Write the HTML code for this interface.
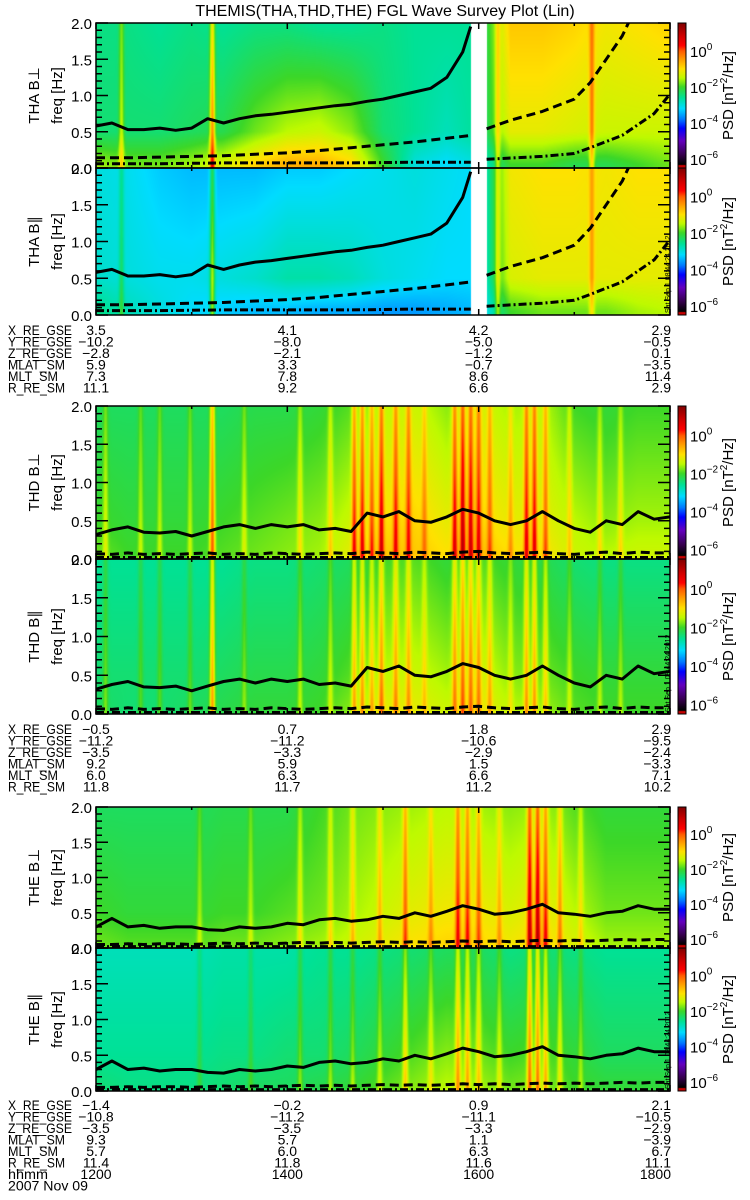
<!DOCTYPE html>
<html><head><meta charset="utf-8">
<style>
html,body{margin:0;padding:0;background:#fff;}
#wrap{position:relative;width:750px;height:1200px;overflow:hidden;font-family:"Liberation Sans",sans-serif;}
canvas{position:absolute;left:0;top:0;}
svg{position:absolute;left:0;top:0;}
text{font-family:"Liberation Sans","DejaVu Sans",sans-serif;fill:#000;}
</style></head>
<body>
<div id="wrap">
<canvas id="cv" width="750" height="1200"></canvas>
<svg id="sv" width="750" height="1200" xmlns="http://www.w3.org/2000/svg"></svg>
</div>
<script>
// ---------- data ----------
const nodeTimes = [0,20,40,60,80,100,120,140,160,180,200,220,240,260,280,300,320,340,360];
const thaPerpLo  = [-1.6,-1.8,-1.8,-1.6,-1.3,-0.9,-0.6,-0.6,-0.9,-2.0,-3.0,-3.2,-3.0,-2.0,-2.0,-2.2,-2.2,-2.0,-1.8];
const thaPerpMid = [-2.4,-2.4,-2.4,-2.3,-2.2,-1.8,-1.5,-1.4,-1.7,-2.4,-2.6,-2.8,-2.6,-1.2,-1.2,-1.3,-1.4,-1.4,-1.4];
const thaPerpHi  = [-2.5,-2.5,-2.6,-2.5,-2.6,-2.5,-2.5,-2.6,-2.6,-2.5,-2.6,-2.6,-2.6,-0.8,-0.8,-0.9,-1.1,-1.0,-0.9];
const thaParLo   = [-2.5,-2.8,-3.0,-3.2,-3.3,-3.4,-3.4,-3.5,-3.5,-3.6,-3.6,-3.5,-3.4,-2.0,-1.8,-1.8,-1.8,-1.6,-1.5];
const thaParMid  = [-2.9,-3.0,-3.1,-3.1,-3.0,-2.9,-2.7,-2.7,-2.8,-3.0,-3.1,-3.2,-3.2,-1.3,-1.2,-1.2,-1.2,-1.2,-1.2];
const thaParHi   = [-3.0,-3.1,-3.3,-3.4,-3.4,-3.4,-3.3,-3.3,-3.2,-3.1,-3.0,-3.1,-3.2,-1.1,-1.0,-1.0,-1.1,-1.0,-1.0];
const thdPerpLo  = [-1.8,-2.0,-2.0,-2.0,-1.9,-1.8,-1.7,-1.6,-1.2,-0.8,-0.8,-1.0,-0.7,-1.0,-1.0,-1.4,-1.5,-1.4,-1.4];
const thdPerpMid = [-2.0,-2.1,-2.1,-2.1,-2.0,-1.9,-1.8,-1.7,-1.4,-1.0,-0.9,-1.2,-0.9,-1.2,-1.2,-1.5,-1.7,-1.6,-1.6];
const thdPerpHi  = [-2.3,-2.3,-2.3,-2.3,-2.3,-2.2,-2.2,-2.1,-1.9,-1.5,-1.4,-1.7,-1.3,-1.6,-1.5,-2.0,-2.1,-2.0,-2.0];
const thdParLo   = [-2.3,-2.4,-2.4,-2.3,-2.2,-2.1,-2.1,-2.0,-1.7,-1.2,-1.2,-1.4,-1.1,-1.5,-1.6,-1.9,-2.0,-2.0,-2.0];
const thdParMid  = [-2.4,-2.4,-2.4,-2.4,-2.3,-2.2,-2.2,-2.1,-1.9,-1.5,-1.4,-1.6,-1.3,-1.7,-1.8,-2.0,-2.1,-2.1,-2.1];
const thdParHi   = [-2.6,-2.6,-2.6,-2.6,-2.6,-2.5,-2.5,-2.4,-2.3,-2.0,-1.9,-2.1,-1.9,-2.1,-2.2,-2.4,-2.5,-2.5,-2.5];
const thePerpLo  = [-1.8,-1.9,-1.9,-1.9,-1.8,-1.8,-1.7,-1.6,-1.4,-1.2,-1.0,-0.9,-0.9,-1.1,-0.9,-1.3,-1.6,-1.6,-1.6];
const thePerpMid = [-2.0,-2.1,-2.1,-2.1,-2.0,-2.0,-1.9,-1.8,-1.6,-1.4,-1.2,-1.1,-1.1,-1.3,-1.1,-1.5,-1.8,-1.8,-1.8];
const thePerpHi  = [-2.3,-2.3,-2.3,-2.3,-2.2,-2.2,-2.2,-2.0,-1.8,-1.7,-1.6,-1.5,-1.6,-1.7,-1.6,-1.9,-2.1,-2.1,-2.1];
const theParLo   = [-2.4,-2.5,-2.5,-2.5,-2.4,-2.3,-2.3,-2.2,-2.1,-1.9,-1.7,-1.5,-1.6,-1.8,-1.7,-2.0,-2.1,-2.1,-2.1];
const theParMid  = [-2.6,-2.6,-2.6,-2.6,-2.5,-2.5,-2.4,-2.4,-2.3,-2.1,-1.9,-1.7,-1.8,-2.0,-1.9,-2.1,-2.3,-2.3,-2.3];
const theParHi   = [-2.8,-2.8,-2.8,-2.8,-2.7,-2.7,-2.7,-2.6,-2.6,-2.5,-2.4,-2.3,-2.3,-2.5,-2.4,-2.5,-2.6,-2.6,-2.6];

const thaStripeT = [16,73,252,311];
const thaPerpStripeA = [1.0,2.0,0.9,1.2];
const thaParStripeA  = [0.7,1.6,0.9,0.8];
const thdStripeT = [6,28,40,59,73,93,128,147,162,167,173,179,188,196,206,225,230,235,240,247,260,270,275,282,297,316,329];
const thdPerpStripeA = [0.7,0.6,0.6,0.6,2.0,0.6,0.7,0.7,1.7,1.7,1.3,1.7,1.4,1.3,0.8,1.7,2.0,1.7,1.4,1.0,0.7,1.7,1.7,1.2,0.6,0.6,0.6];
const thdParStripeA  = [0.6,0.5,0.5,0.5,1.8,0.5,0.6,0.6,1.2,1.2,0.9,1.2,1.0,0.9,0.6,1.2,1.4,1.2,1.0,0.8,0.5,1.2,1.2,0.9,0.5,0.5,0.5];
const theStripeT = [65,97,128,147,161,178,194,210,227,233,240,253,272,277,282,291,304];
const thePerpStripeA = [0.5,0.5,0.7,0.7,0.8,0.8,1.3,0.7,1.5,1.4,1.1,0.7,2.1,2.1,1.5,1.0,0.6];
const theParStripeA  = [0.4,0.4,0.6,0.6,0.6,0.6,1.0,0.6,1.2,1.1,0.9,0.6,1.7,1.6,1.2,0.8,0.5];

const thaGap = [235,245];

const thaSolidT = [0,10,20,30,40,50,60,70,80,90,100,110,120,130,140,150,160,170,180,190,200,210,220,230,235];
const thaSolidF = [0.58,0.62,0.53,0.53,0.55,0.52,0.55,0.68,0.62,0.68,0.72,0.74,0.77,0.80,0.83,0.86,0.88,0.92,0.95,1.0,1.05,1.1,1.25,1.6,1.95];
const thaDashT = [0,20,40,60,80,100,120,140,160,180,200,220,235,null,245,260,280,300,310,320,330,335];
const thaDashF = [0.14,0.14,0.15,0.16,0.17,0.19,0.21,0.24,0.28,0.32,0.36,0.41,0.45,null,0.54,0.66,0.78,0.95,1.18,1.5,1.82,2.05];
const thaDotT = [0,40,80,120,160,200,235,null,245,280,300,310,330,350,360];
const thaDotF = [0.06,0.06,0.07,0.07,0.07,0.08,0.08,null,0.12,0.16,0.2,0.28,0.45,0.75,1.02];

const tenMin = [0,10,20,30,40,50,60,70,80,90,100,110,120,130,140,150,160,170,180,190,200,210,220,230,240,250,260,270,280,290,300,310,320,330,340,350,360];
const thdSolidF = [0.32,0.38,0.42,0.35,0.34,0.36,0.30,0.36,0.42,0.45,0.40,0.45,0.42,0.45,0.38,0.40,0.36,0.60,0.55,0.62,0.50,0.48,0.55,0.65,0.60,0.50,0.45,0.50,0.62,0.50,0.40,0.35,0.50,0.45,0.62,0.52,0.55];
const thdDashF  = [0.07,0.06,0.08,0.06,0.07,0.06,0.07,0.08,0.06,0.07,0.06,0.08,0.07,0.06,0.07,0.08,0.07,0.09,0.08,0.07,0.09,0.08,0.07,0.09,0.10,0.08,0.07,0.08,0.09,0.07,0.06,0.08,0.09,0.07,0.09,0.08,0.08];
const thdDotF   = [0.02,0.02,0.02,0.02,0.02,0.02,0.02,0.02,0.02,0.02,0.02,0.02,0.02,0.02,0.02,0.02,0.02,0.02,0.02,0.02,0.02,0.02,0.02,0.02,0.02,0.02,0.02,0.02,0.02,0.02,0.02,0.02,0.02,0.02,0.02,0.02,0.02];
const theSolidF = [0.30,0.42,0.30,0.32,0.28,0.30,0.30,0.26,0.25,0.30,0.28,0.30,0.35,0.33,0.40,0.42,0.38,0.40,0.45,0.42,0.50,0.45,0.52,0.60,0.55,0.48,0.50,0.55,0.62,0.50,0.48,0.45,0.50,0.52,0.60,0.55,0.55];
const theDashF  = [0.05,0.05,0.06,0.05,0.06,0.06,0.05,0.06,0.07,0.06,0.07,0.06,0.07,0.08,0.07,0.08,0.07,0.08,0.09,0.08,0.09,0.08,0.09,0.10,0.09,0.10,0.09,0.10,0.11,0.10,0.11,0.10,0.11,0.12,0.11,0.12,0.12];
const theDotF   = [0.02,0.02,0.02,0.02,0.02,0.02,0.02,0.02,0.02,0.02,0.02,0.02,0.02,0.02,0.02,0.02,0.02,0.02,0.02,0.02,0.02,0.02,0.02,0.02,0.02,0.02,0.02,0.02,0.02,0.02,0.02,0.02,0.02,0.02,0.02,0.02,0.02];

const yTickLabels = ["0.0","0.5","1.0","1.5","2.0"];
const yTickValues = [0,0.5,1.0,1.5,2.0];
const cbTickValues = [0,-2,-4,-6];
const orbitLabels = ["X_RE_GSE","Y_RE_GSE","Z_RE_GSE","MLAT_SM","MLT_SM","R_RE_SM"];
const orbitTha = [["3.5","4.1","4.2","2.9"],["\u221210.2","\u22128.0","\u22125.0","\u22120.5"],["\u22122.8","\u22122.1","\u22121.2","0.1"],["5.9","3.3","\u22120.7","\u22123.5"],["7.3","7.8","8.6","11.4"],["11.1","9.2","6.6","2.9"]];
const orbitThd = [["\u22120.5","0.7","1.8","2.9"],["\u221211.2","\u221211.2","\u221210.6","\u22129.5"],["\u22123.5","\u22123.3","\u22122.9","\u22122.4"],["9.2","5.9","1.5","\u22123.3"],["6.0","6.3","6.6","7.1"],["11.8","11.7","11.2","10.2"]];
const orbitThe = [["\u22121.4","\u22120.2","0.9","2.1"],["\u221210.8","\u221211.2","\u221211.1","\u221210.5"],["\u22123.5","\u22123.5","\u22123.3","\u22122.9"],["9.3","5.7","1.1","\u22123.9"],["5.7","6.0","6.3","6.7"],["11.4","11.8","11.6","11.1"]];
const hhmmLabels = ["1200","1400","1600","1800"];
const hhmmTimes = [0,120,240,360];

// ---------- layout ----------
const PX0 = 96, PX1 = 670, TMAX = 360;
const CB0 = 678, CB1 = 686, CBTOP = 1.55, CBBOT = -6.5;
const labelWidths = {"X_RE_GSE":64,"Y_RE_GSE":64,"Z_RE_GSE":64,"MLAT_SM":57,"MLT_SM":50,"R_RE_SM":57,"hhmm":40};
const panels = [
  {name:"tha-bperp", title:"THA B\u22a5", top:23, bot:168, lo:thaPerpLo, mid:thaPerpMid, hi:thaPerpHi, sT:thaStripeT, sA:thaPerpStripeA, gap:thaGap, lines:[[thaSolidT,thaSolidF,"solid"],[thaDashT,thaDashF,"dash"],[thaDotT,thaDotF,"dashdot"]]},
  {name:"tha-bpar", title:"THA B\u2225", top:168, bot:315, lo:thaParLo, mid:thaParMid, hi:thaParHi, sT:thaStripeT, sA:thaParStripeA, gap:thaGap, lines:[[thaSolidT,thaSolidF,"solid"],[thaDashT,thaDashF,"dash"],[thaDotT,thaDotF,"dashdot"]], stamp:true},
  {name:"thd-bperp", title:"THD B\u22a5", top:406, bot:559, lo:thdPerpLo, mid:thdPerpMid, hi:thdPerpHi, sT:thdStripeT, sA:thdPerpStripeA, gap:null, lines:[[tenMin,thdSolidF,"solid"],[tenMin,thdDashF,"dash"],[tenMin,thdDotF,"dashdot"]]},
  {name:"thd-bpar", title:"THD B\u2225", top:559, bot:714, lo:thdParLo, mid:thdParMid, hi:thdParHi, sT:thdStripeT, sA:thdParStripeA, gap:null, lines:[[tenMin,thdSolidF,"solid"],[tenMin,thdDashF,"dash"],[tenMin,thdDotF,"dashdot"]], stamp:true},
  {name:"the-bperp", title:"THE B\u22a5", top:807, bot:948, lo:thePerpLo, mid:thePerpMid, hi:thePerpHi, sT:theStripeT, sA:thePerpStripeA, gap:null, lines:[[tenMin,theSolidF,"solid"],[tenMin,theDashF,"dash"],[tenMin,theDotF,"dashdot"]]},
  {name:"the-bpar", title:"THE B\u2225", top:948, bot:1091, lo:theParLo, mid:theParMid, hi:theParHi, sT:theStripeT, sA:theParStripeA, gap:null, lines:[[tenMin,theSolidF,"solid"],[tenMin,theDashF,"dash"],[tenMin,theDotF,"dashdot"]], stamp:true}
];

function xScale(t){ return PX0 + t/TMAX*(PX1-PX0); }
function tFromX(x){ return (x-PX0)/(PX1-PX0)*TMAX; }
function yScale(p,f){ return p.bot - f/2*(p.bot-p.top); }
function cbScale(p,v){ return p.top + (CBTOP - v)/(CBTOP-CBBOT)*(p.bot-p.top); }

const cstops = [
 [1.55,[128,0,0]],[0.8,[210,0,0]],[0.3,[255,0,0]],[0,[255,90,0]],[-0.5,[255,160,0]],[-1.0,[255,225,0]],
 [-1.5,[190,250,0]],[-2.0,[60,215,40]],[-2.6,[0,225,150]],[-3.2,[0,220,255]],[-3.8,[0,120,255]],
 [-4.3,[0,0,255]],[-5.0,[100,0,190]],[-5.8,[50,0,70]],[-6.3,[0,0,0]],[-9,[0,0,0]]
];
function cmap(v){
  if(v>=cstops[0][0]) return cstops[0][1];
  for(let i=0;i<cstops.length-1;i++){
    const a=cstops[i],b=cstops[i+1];
    if(v<=a[0]&&v>=b[0]){const u=(a[0]-v)/(a[0]-b[0]);return [0,1,2].map(k=>Math.round(a[1][k]+(b[1][k]-a[1][k])*u));}
  }
  return [0,0,0];
}
function interpNodes(arr,t){
  const step = nodeTimes[1]-nodeTimes[0];
  let i=Math.floor(t/step); if(i<0)i=0; if(i>arr.length-2)i=arr.length-2;
  const u=(t-nodeTimes[i])/step; return arr[i]+(arr[i+1]-arr[i])*u;
}

// ---------- draw heatmaps ----------
const cv=document.getElementById('cv'), ctx=cv.getContext('2d');
panels.forEach(p=>{
  const W=PX1-PX0, H=p.bot-p.top;
  const img=ctx.createImageData(W,H);
  for(let px=0;px<W;px++){
    const x=PX0+px+0.5, t=tFromX(x);
    const lo=interpNodes(p.lo,t), mi=interpNodes(p.mid,t), hi=interpNodes(p.hi,t);
    let s=0;
    for(let k=0;k<p.sT.length;k++){const d=(x-xScale(p.sT[k]))/2.6; s+=p.sA[k]*Math.exp(-d*d);}
    const inGap = p.gap && t>=p.gap[0] && t<=p.gap[1];
    for(let py=0;py<H;py++){
      const f=(H-py-0.5)/H*2;
      let v;
      if(f<0.5){const u=Math.max(0,(f-0.05)/0.45);v=lo+(mi-lo)*u;} else {v=mi+(hi-mi)*(f-0.5)/1.5;}
      v+=s*(1-0.3*f/2);
      const c=inGap?[255,255,255]:cmap(v);
      const o=(py*W+px)*4; img.data[o]=c[0];img.data[o+1]=c[1];img.data[o+2]=c[2];img.data[o+3]=255;
    }
  }
  ctx.putImageData(img,PX0,p.top);
  for(let y=p.top;y<p.bot;y++){
    const v=CBTOP-(y+0.5-p.top)/(p.bot-p.top)*(CBTOP-CBBOT);
    const c=(y>=p.bot-3)?[200,0,0]:cmap(v);
    ctx.fillStyle='rgb('+c.join(',')+')'; ctx.fillRect(CB0,y,CB1-CB0,1);
  }
});

// ---------- svg overlay ----------
const NS='http://www.w3.org/2000/svg', sv=document.getElementById('sv');
function mk(tag,attrs,parent){const e=document.createElementNS(NS,tag);for(const k in attrs)e.setAttribute(k,attrs[k]);(parent||sv).appendChild(e);return e;}

const title=mk('text',{x:385,y:16,'text-anchor':'middle','font-size':16});
title.textContent='THEMIS(THA,THD,THE) FGL Wave Survey Plot (Lin)';



panels.forEach((p,pi)=>{
  const g=mk('g',{});
  
  
  const clipId='clip'+pi;
  const cp=mk('clipPath',{id:clipId},g); mk('rect',{x:PX0,y:p.top,width:PX1-PX0,height:p.bot-p.top},cp);
  p.lines.forEach(([T,F,style])=>{
    let d='',pen=false;
    for(let i=0;i<T.length;i++){
      if(T[i]===null||F[i]===null){pen=false;continue;}
      d+=(pen?'L':'M')+xScale(T[i]).toFixed(1)+' '+yScale(p,F[i]).toFixed(1)+' '; pen=true;
    }
    const attrs={d:d,fill:'none',stroke:'#000','stroke-width':3,'stroke-linejoin':'round','clip-path':'url(#'+clipId+')'};
    if(style==='dash')attrs['stroke-dasharray']='9,5';
    if(style==='dashdot')attrs['stroke-dasharray']='8,3,2,3';
    const ln=mk('path',attrs,g);
    
    
  });
  const fr=mk('rect',{x:PX0,y:p.top,width:PX1-PX0,height:p.bot-p.top,fill:'none',stroke:'#000','stroke-width':1.5},g);
  
  
  let td='';
  for(let k=0;k<=20;k++){
    const f=k*0.1, y=yScale(p,f), L=(k%5===0)?12:6;
    td+='M'+PX0+' '+y.toFixed(1)+'h'+L+' M'+PX1+' '+y.toFixed(1)+'h'+(-L)+' ';
  }
  [0,60,120,180,240,300,360].forEach((t,i)=>{const x=xScale(t),L=(i%2===0)?6:3;td+='M'+x.toFixed(1)+' '+p.bot+'v'+(-L)+' M'+x.toFixed(1)+' '+p.top+'v'+L+' ';});
  const tk=mk('path',{d:td,stroke:'#000','stroke-width':1.5,fill:'none'},g);
  
  
  yTickValues.forEach((v,i)=>{
    const t=mk('text',{x:92,y:(yScale(p,v)+6).toFixed(1),'text-anchor':'end','font-size':15},g);
    t.textContent=yTickLabels[i];
    
    
  });
  const cy=(p.top+p.bot)/2;
  const yt=mk('text',{x:0,y:0,'text-anchor':'middle','font-size':15,transform:'translate(39,'+cy+') rotate(-90)'},g);
  yt.textContent=p.title;
  
  
  const yu=mk('text',{x:0,y:0,'text-anchor':'middle','font-size':15,transform:'translate(62,'+cy+') rotate(-90)'},g);
  yu.textContent='freq [Hz]';
  
  
  const cbf=mk('rect',{x:CB0,y:p.top,width:CB1-CB0,height:p.bot-p.top,fill:'none',stroke:'#000','stroke-width':1},g);
  
  
  cbTickValues.forEach(v=>{
    const t=mk('text',{x:690,y:(cbScale(p,v)+6).toFixed(1),'font-size':15},g);
    t.textContent='10';
    const s=mk('tspan',{dy:-7,'font-size':10},t); s.textContent=String(v).replace('-','\u2212');
    
    
  });
  const cl=mk('text',{x:0,y:0,'text-anchor':'middle','font-size':15,transform:'translate(733,'+cy+') rotate(-90)'},g);
  cl.textContent='PSD [nT';
  const s2=mk('tspan',{dy:-6,'font-size':10},cl); s2.textContent='2';
  const s3=mk('tspan',{dy:6},cl); s3.textContent='/Hz]';
  
  
  if(p.stamp){
    const st=mk('text',{x:0,y:0,'font-size':7,transform:'translate(670,'+(p.bot-2)+') rotate(-90)'},g);
    st.textContent='Sat Sep  1 08:44:24 2012';
    
    
  }
});

function orbitBlock(y0,vals,withTime){
  const g=mk('g',{});
  
  
  const rows=orbitLabels.slice();
  const data=vals.slice();
  if(withTime){rows.push('hhmm');data.push(hhmmLabels);}
  rows.forEach((lab,r)=>{
    const y=y0+r*11.5;
    const t=mk('text',{x:8,y:y,'font-size':14,textLength:labelWidths[lab],lengthAdjust:'spacingAndGlyphs'},g); t.textContent=lab;
    
    
    data[r].forEach((v,c)=>{
      const x=c===3?671:xScale(hhmmTimes[c]);
      const tv=mk('text',{x:x,y:y,'font-size':14,'text-anchor':c===3?'end':'middle'},g); tv.textContent=v;
      
      
    });
  });
  if(withTime){
    const d=mk('text',{x:8,y:y0+7*11.5,'font-size':14,textLength:80,lengthAdjust:'spacingAndGlyphs'},g); d.textContent='2007 Nov 09';
    
    
  }
}
orbitBlock(335,orbitTha,false);
orbitBlock(734,orbitThd,false);
orbitBlock(1110,orbitThe,true);
</script>
</body></html>
